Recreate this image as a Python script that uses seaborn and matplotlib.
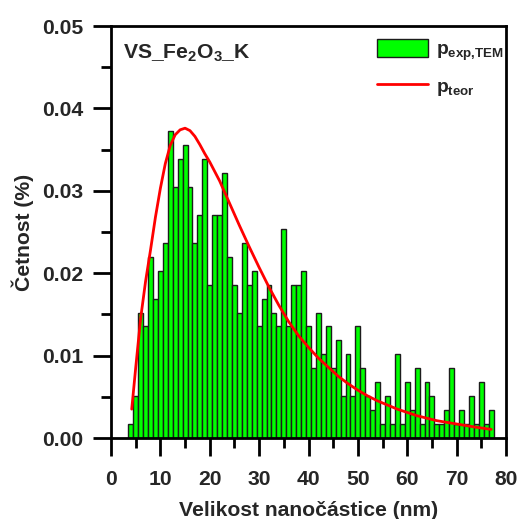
import numpy as np
import pandas as pd
import matplotlib
matplotlib.use("Agg")
import matplotlib.pyplot as plt
import seaborn as sns
from matplotlib.patches import Patch
from matplotlib.lines import Line2D
from matplotlib.ticker import MultipleLocator, FormatStrFormatter

# Particle size classes (nm), 1 nm wide bins
size_nm = list(range(4, 78))

# Number of particles counted in each size class (TEM)
counts = [1, 3, 9, 8, 13, 10, 12, 14, 22, 18, 20, 21, 18, 14, 16, 20, 11, 16,
          16, 19, 13, 11, 9, 14, 11,
          12, 8, 10, 11, 9, 8, 15, 8, 11, 11, 12, 8, 5, 9, 6, 8, 5, 7, 3, 6,
          3, 8, 5, 3, 2, 4,
          1, 3, 1, 6, 1, 4, 2, 5, 1, 4, 3, 1, 1, 2, 5, 1, 2, 1, 3, 1, 4, 1, 2]

# Theoretical size distribution
curve_x = [4.2, 5, 6, 7, 8, 9, 10, 11, 12, 13, 14, 15, 16, 17, 18, 19, 20, 22,
           24, 26, 28, 30, 32, 34, 36, 38, 40, 42, 44, 46, 48, 50, 52, 54, 56,
           58, 60, 62, 64, 66, 68, 70, 72, 74, 77]
curve_p = [0.0035, 0.0085, 0.0145, 0.0190, 0.0228, 0.0268, 0.0303, 0.0333,
           0.0355, 0.0368, 0.0374, 0.0376, 0.0373, 0.0366, 0.0356, 0.0345,
           0.0335, 0.0312, 0.0285, 0.0258, 0.0232, 0.0207, 0.0183, 0.0161,
           0.0141, 0.0124, 0.0110, 0.0097, 0.0086, 0.0075, 0.0066, 0.0058,
           0.0051, 0.0045, 0.0040, 0.0035, 0.0031, 0.0027, 0.0024, 0.0021,
           0.0019, 0.0017, 0.0015, 0.0013, 0.00105]

sns.set_theme(style="ticks")
plt.rcParams["font.family"] = ["Liberation Sans", "DejaVu Sans"]
plt.rcParams["font.weight"] = "bold"
plt.rcParams["mathtext.fontset"] = "custom"
plt.rcParams["mathtext.rm"] = "Liberation Sans:bold"
plt.rcParams["mathtext.bf"] = "Liberation Sans:bold"
plt.rcParams["mathtext.it"] = "Liberation Sans:bold"
plt.rcParams["mathtext.default"] = "bf"

FS = 15.2

fig = plt.figure(figsize=(5.17, 5.19), dpi=100)
ax = fig.add_axes([111 / 517, 1 - 438 / 519, 395 / 517, 412 / 519])

df = pd.DataFrame({"size": size_nm, "count": counts})
sns.histplot(data=df, x="size", weights="count", discrete=True,
             stat="density", color="#00ff00", edgecolor="#1c1c1c",
             linewidth=1.0, alpha=1.0, ax=ax)

curve = pd.DataFrame({"x": curve_x, "p": curve_p})
sns.lineplot(data=curve, x="x", y="p", color="#ff0000", linewidth=2.0,
             ax=ax)

ax.set_xlim(0, 80)
ax.set_ylim(0, 0.05)
ax.xaxis.set_major_locator(MultipleLocator(10))
ax.xaxis.set_minor_locator(MultipleLocator(5))
ax.yaxis.set_major_locator(MultipleLocator(0.01))
ax.yaxis.set_minor_locator(MultipleLocator(0.005))
ax.yaxis.set_major_formatter(FormatStrFormatter("%.2f"))

ax.tick_params(which="both", direction="out", top=False, right=False,
               width=2.0, color="black", labelsize=FS)
ax.tick_params(which="major", length=13, pad=7)
ax.tick_params(axis="x", which="major", pad=10)
ax.tick_params(which="minor", length=7)
for lab in ax.get_xticklabels() + ax.get_yticklabels():
    lab.set_fontweight("bold")
for sp in ax.spines.values():
    sp.set_linewidth(2.0)
    sp.set_color("black")

ax.set_xlabel("Velikost nanočástice (nm)", fontsize=FS, fontweight="bold",
              labelpad=9)
ax.set_ylabel("Četnost (%)", fontsize=FS, fontweight="bold", labelpad=6)

ax.text(0.03, 0.92, r"$\mathrm{VS\_Fe_{2}O_{3}\_K}$", transform=ax.transAxes,
        fontsize=FS, ha="left", va="baseline")

handles = [Patch(facecolor="#00ff00", edgecolor="#1c1c1c", linewidth=1.0),
           Line2D([], [], color="#ff0000", linewidth=2.0)]
labels = [r"$\mathbf{p_{exp{,}TEM}}$", r"$\mathbf{p_{teor}}$"]
ax.legend(handles, labels, loc="upper left", bbox_to_anchor=(0.64, 1.0),
          frameon=False, fontsize=13.8, handlelength=2.65, handleheight=1.05,
          handletextpad=0.4, labelspacing=0.7, borderpad=0.2)

fig.savefig("out.png", dpi=100)
